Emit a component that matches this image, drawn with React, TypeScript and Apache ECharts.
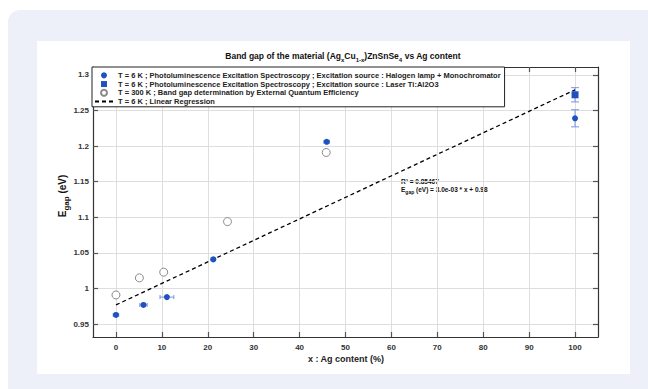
import React, { useEffect, useRef } from "react";
import * as echarts from "echarts";

const xTicks = [0, 10, 20, 30, 40, 50, 60, 70, 80, 90, 100];
const yTicks = [0.95, 1, 1.05, 1.1, 1.15, 1.2, 1.25, 1.3];

const halName = "T = 6 K ; Photoluminescence Excitation Spectroscopy ; Excitation source : Halogen lamp + Monochromator";
const halX = [0, 6, 11.1, 21.2, 45.9, 100];
const halY = [0.963, 0.977, 0.988, 1.041, 1.206, 1.239];
const halXErr = [0.6, 0.8, 1.5, 0.5, 0.6, 0];
const halYErr = [0, 0, 0, 0, 0, 0.012];

const laserName = "T = 6 K ; Photoluminescence Excitation Spectroscopy ; Excitation source : Laser Ti:Al2O3";
const laserX = [100];
const laserY = [1.272];
const laserYErr = [0.01];

const eqeName = "T = 300 K ; Band gap determination by External Quantum Efficiency";
const eqeX = [0, 5.1, 10.4, 24.3, 45.8];
const eqeY = [0.991, 1.015, 1.023, 1.094, 1.191];

const regName = "T = 6 K ; Linear Regression";
const regX = [0, 100];
const regY = [0.977, 1.279];

const FONT = "'Liberation Sans', Arial, sans-serif";
const BLUE = "#1f52c0";
const ERR = "#7d92dc";

export default function App() {
  const ref = useRef<HTMLDivElement>(null);
  useEffect(() => {
    if (!ref.current) return;
    const chart = echarts.init(ref.current, undefined, { renderer: "svg" });
    const errData: number[][] = [];
    halX.forEach((x, i) => errData.push([x, halY[i], halXErr[i], halYErr[i]]));
    laserX.forEach((x, i) => errData.push([x, laserY[i], 0, laserYErr[i]]));

    const axisCommon = {
      type: "value" as const,
      axisLine: { show: true, onZero: false, lineStyle: { color: "#333", width: 1.2 } },
      axisTick: { show: true, inside: true, length: 5, lineStyle: { color: "#555", width: 1.2 } },
    };
    const yFmt = (v: number) => String(parseFloat(Number(v).toFixed(2)));

    chart.setOption({
      animation: false,
      grid: { left: 93, top: 67, width: 505, height: 270, containLabel: false },
      xAxis: [
        {
          ...axisCommon,
          position: "bottom",
          min: -5,
          max: 105,
          axisTick: { ...axisCommon.axisTick, customValues: xTicks },
          axisLabel: { customValues: xTicks, fontSize: 8, fontWeight: "bold", color: "#333", margin: 6, fontFamily: FONT },
          splitLine: { show: true, lineStyle: { color: "#dedede", width: 1 } },
        },
        {
          ...axisCommon,
          position: "top",
          min: -5,
          max: 105,
          axisTick: { ...axisCommon.axisTick, customValues: xTicks },
          axisLabel: { show: false },
          splitLine: { show: false },
        },
      ],
      yAxis: [
        {
          ...axisCommon,
          position: "left",
          min: 0.932,
          max: 1.311,
          axisTick: { ...axisCommon.axisTick, customValues: yTicks },
          axisLabel: { customValues: yTicks, fontSize: 8, fontWeight: "bold", color: "#333", margin: 4, fontFamily: FONT, formatter: yFmt },
          splitLine: { show: true, lineStyle: { color: "#dedede", width: 1 } },
        },
        {
          ...axisCommon,
          position: "right",
          min: 0.932,
          max: 1.311,
          axisTick: { ...axisCommon.axisTick, customValues: yTicks },
          axisLabel: { show: false },
          splitLine: { show: false },
        },
      ],
      legend: {
        orient: "vertical",
        left: 92,
        top: 67,
        padding: [4, 4, 1, 2],
        itemWidth: 18,
        itemHeight: 6,
        itemGap: 0,
        itemTextGap: 3,
        borderColor: "#222",
        borderWidth: 1,
        backgroundColor: "#fff",
        textStyle: { fontSize: 7.5, fontWeight: "bold", color: "#222", fontFamily: FONT, lineHeight: 8.7 },
        data: [
          { name: halName, icon: "circle" },
          { name: laserName, icon: "path://M0,0L10,0L10,10L0,10Z" },
          { name: eqeName, icon: "circle" },
          { name: regName, itemStyle: { opacity: 0 } },
        ],
        symbolKeepAspect: true,
      },
      series: [
        {
          type: "custom",
          name: "err",
          z: 1,
          encode: { x: 0, y: 1 },
          data: errData,
          renderItem: (params: any, api: any) => {
            const x = api.value(0), y = api.value(1), xe = api.value(2), ye = api.value(3);
            const children: any[] = [];
            const st = { stroke: ERR, lineWidth: 1 };
            if (xe > 0) {
              const a = api.coord([x - xe, y]);
              const b = api.coord([x + xe, y]);
              children.push({ type: "line", shape: { x1: a[0], y1: a[1], x2: b[0], y2: b[1] }, style: st });
              children.push({ type: "line", shape: { x1: a[0], y1: a[1] - 2, x2: a[0], y2: a[1] + 2 }, style: st });
              children.push({ type: "line", shape: { x1: b[0], y1: b[1] - 2, x2: b[0], y2: b[1] + 2 }, style: st });
            }
            if (ye > 0) {
              const a = api.coord([x, y - ye]);
              const b = api.coord([x, y + ye]);
              children.push({ type: "line", shape: { x1: a[0], y1: a[1], x2: b[0], y2: b[1] }, style: st });
              children.push({ type: "line", shape: { x1: a[0] - 4, y1: a[1], x2: a[0] + 4, y2: a[1] }, style: st });
              children.push({ type: "line", shape: { x1: b[0] - 4, y1: b[1], x2: b[0] + 4, y2: b[1] }, style: st });
            }
            return { type: "group", children };
          },
        },
        {
          type: "line",
          name: regName,
          z: 2,
          data: regX.map((x, i) => [x, regY[i]]),
          symbol: "none",
          showSymbol: false,
          lineStyle: { color: "#000", width: 1.3, type: [4, 3] },
          itemStyle: { color: "#000" },
        },
        {
          type: "scatter",
          name: eqeName,
          z: 3,
          data: eqeX.map((x, i) => [x, eqeY[i]]),
          symbol: "circle",
          symbolSize: 8,
          itemStyle: { color: "#fff", borderColor: "#8a8a8a", borderWidth: 1, opacity: 1 },
        },
        {
          type: "scatter",
          name: halName,
          z: 4,
          clip: false,
          data: halX.map((x, i) => [x, halY[i]]),
          symbol: "circle",
          symbolSize: 6,
          itemStyle: { color: BLUE, opacity: 1 },
        },
        {
          type: "scatter",
          name: laserName,
          z: 4,
          clip: false,
          data: laserX.map((x, i) => [x, laserY[i]]),
          symbol: "rect",
          symbolSize: 7,
          symbolKeepAspect: true,
          itemStyle: { color: BLUE, opacity: 1 },
        },
      ],
      graphic: [
        {
          type: "text",
          x: 343,
          y: 57,
          style: {
            text: "{n|Band gap of the material (Ag}{s|x}{n|Cu}{s|1-x}{n|)ZnSnSe}{s|4}{n| vs Ag content}",
            align: "center",
            verticalAlign: "middle",
            fill: "#111",
            rich: {
              n: { fontSize: 8.5, fontWeight: "bold", fontFamily: FONT, fill: "#111", verticalAlign: "bottom", padding: [0, 0, 3, 0] },
              s: { fontSize: 6, fontWeight: "bold", fontFamily: FONT, fill: "#111", verticalAlign: "bottom" },
            },
          },
        },
        {
          type: "text",
          x: 64,
          y: 196,
          rotation: Math.PI / 2,
          style: {
            text: "{n|E}{s|gap}{n| (eV)}",
            align: "center",
            verticalAlign: "middle",
            fill: "#111",
            rich: {
              n: { fontSize: 10, fontWeight: "bold", fontFamily: FONT, fill: "#111", verticalAlign: "bottom", padding: [0, 0, 3, 0] },
              s: { fontSize: 8, fontWeight: "bold", fontFamily: FONT, fill: "#111", verticalAlign: "bottom" },
            },
          },
        },
        {
          type: "text",
          x: 346,
          y: 359,
          style: {
            text: "x : Ag content (%)",
            align: "center",
            verticalAlign: "middle",
            fontSize: 9,
            fontWeight: "bold",
            fontFamily: FONT,
            fill: "#222",
          },
        },
        {
          type: "text",
          x: 401,
          y: 181,
          style: {
            text: "R² = 0.85467",
            align: "left",
            verticalAlign: "middle",
            fontSize: 6.5,
            fontWeight: "bold",
            fontFamily: FONT,
            fill: "#111",
          },
        },
        {
          type: "text",
          x: 401,
          y: 190,
          style: {
            text: "{n|E}{s|gap}{n| (eV) = 3.0e-03 * x + 0.98}",
            align: "left",
            verticalAlign: "middle",
            fill: "#111",
            rich: {
              n: { fontSize: 6.5, fontWeight: "bold", fontFamily: FONT, fill: "#111", verticalAlign: "bottom", padding: [0, 0, 2, 0] },
              s: { fontSize: 5, fontWeight: "bold", fontFamily: FONT, fill: "#111", verticalAlign: "bottom" },
            },
          },
        },
      ],
    });
    return () => chart.dispose();
  }, []);

  return (
    <div style={{ position: "fixed", left: 0, top: 0, width: 648, height: 389, background: "#fff", overflow: "hidden" }}>
      <div style={{ position: "absolute", left: 8, top: 10, width: 680, height: 420, borderRadius: 12, background: "#edf0f9" }} />
      <div style={{ position: "absolute", left: 37, top: 41, width: 593, height: 333, background: "#fff" }} />
      <div ref={ref} style={{ position: "absolute", left: 0, top: 0, width: 648, height: 389 }} />
    </div>
  );
}
